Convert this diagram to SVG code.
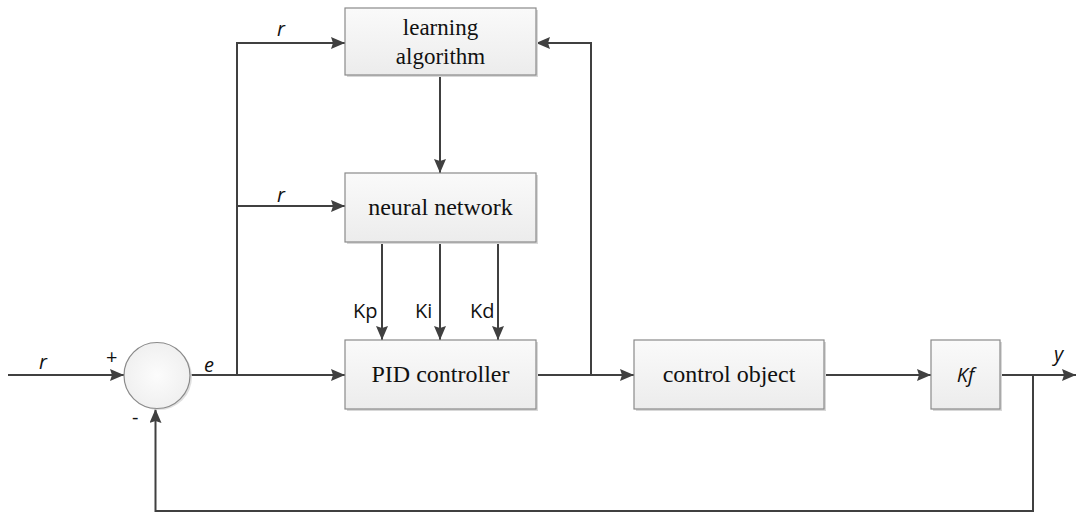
<svg xmlns="http://www.w3.org/2000/svg" width="1076" height="513" viewBox="0 0 1076 513">
<style>
.box{fill:url(#g);stroke:#8a8a8a;stroke-width:1.2}
.shadow{fill:#d8d8d8}
.lbl{font-family:"Liberation Serif",serif;font-size:24px;fill:#111;text-anchor:middle}
.sym{font-family:"Open Sans","Liberation Sans",sans-serif;font-size:20px;fill:#111}
.it{font-style:italic}
.ln{fill:none;stroke:#404040;stroke-width:2}
</style>
<defs>
<linearGradient id="g" x1="0" y1="0" x2="0" y2="1">
<stop offset="0" stop-color="#fafafa"/>
<stop offset="1" stop-color="#ececec"/>
</linearGradient>
<radialGradient id="cg" cx="0.5" cy="0.5" r="0.5">
<stop offset="0" stop-color="#fcfcfc"/>
<stop offset="1" stop-color="#f0f0f0"/>
</radialGradient>
<marker id="a" viewBox="0 0 14 12" refX="14" refY="6" markerWidth="14" markerHeight="12" markerUnits="userSpaceOnUse" orient="auto">
<path d="M0,0 L14,6 L0,12 L2,6 Z" fill="#404040"/>
</marker>
</defs>

<g id="connectors">
<path class="ln" d="M8,375 H124" marker-end="url(#a)"/>
<path class="ln" d="M190,375 H345" marker-end="url(#a)"/>
<path class="ln" d="M237,375 V43 H345" marker-end="url(#a)"/>
<path class="ln" d="M237,206 H345" marker-end="url(#a)"/>
<path class="ln" d="M440,75 V173" marker-end="url(#a)"/>
<path class="ln" d="M382,242 V340" marker-end="url(#a)"/>
<path class="ln" d="M440,242 V340" marker-end="url(#a)"/>
<path class="ln" d="M498,242 V340" marker-end="url(#a)"/>
<path class="ln" d="M536,375 H634" marker-end="url(#a)"/>
<path class="ln" d="M591,375 V43 H536" marker-end="url(#a)"/>
<path class="ln" d="M824,375 H931" marker-end="url(#a)"/>
<path class="ln" d="M1000,375 H1076" marker-end="url(#a)"/>
<path class="ln" d="M1033,375 V511 H155.5 V409" marker-end="url(#a)"/>
</g>

<g id="sum">
<circle cx="159" cy="377" r="33" fill="#e0e0e0"/>
<circle cx="157" cy="375.5" r="33" fill="url(#cg)" stroke="#8a8a8a" stroke-width="1.2"/>
</g>

<g id="learning">
<rect class="shadow" x="347" y="10" width="191" height="67"/>
<rect class="box" x="345" y="8" width="191" height="67"/>
<text class="lbl" x="440.5" y="35" style="font-size:23px">learning</text>
<text class="lbl" x="440.5" y="64" style="font-size:23px">algorithm</text>
</g>

<g id="neural">
<rect class="shadow" x="347" y="175" width="191" height="69"/>
<rect class="box" x="345" y="173" width="191" height="69"/>
<text class="lbl" x="440.5" y="215">neural network</text>
</g>

<g id="pid">
<rect class="shadow" x="347" y="342" width="191" height="69"/>
<rect class="box" x="345" y="340" width="191" height="69"/>
<text class="lbl" x="440.5" y="382">PID controller</text>
</g>

<g id="plant">
<rect class="shadow" x="636" y="342" width="190" height="69"/>
<rect class="box" x="634" y="340" width="190" height="69"/>
<text class="lbl" x="729" y="382">control object</text>
</g>

<g id="kf">
<rect class="shadow" x="933" y="342" width="69" height="69"/>
<rect class="box" x="931" y="340" width="69" height="69"/>
<text class="sym it" x="965.5" y="382" text-anchor="middle">Kf</text>
</g>

<g id="labels">
<text class="sym it" x="39" y="369">r</text>
<text class="sym" x="106" y="364">+</text>
<text class="sym" x="132" y="424">-</text>
<text class="sym it" x="204" y="372">e</text>
<text class="sym it" x="277" y="36">r</text>
<text class="sym it" x="277" y="202">r</text>
<text class="sym" x="353" y="318">Kp</text>
<text class="sym" x="415" y="318">Ki</text>
<text class="sym" x="470" y="318">Kd</text>
<text class="sym it" x="1054" y="361">y</text>
</g>
</svg>
